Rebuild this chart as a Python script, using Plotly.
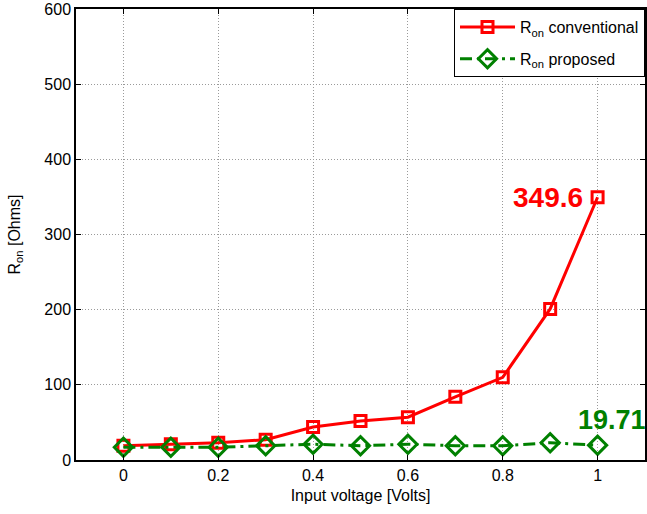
import plotly.graph_objects as go

# Input voltage sweep (V)
voltage = [0, 0.1, 0.2, 0.3, 0.4, 0.5, 0.6, 0.7, 0.8, 0.9, 1.0]

# On-resistance of the two switch designs (Ohms)
ron_conventional = [19, 21, 23, 27, 44, 52, 57, 84, 110, 201, 349.6]
ron_proposed = [17, 17, 17, 19, 21, 19, 21, 19, 19, 23, 19.71]

x_ticks = [0, 0.2, 0.4, 0.6, 0.8, 1]
y_ticks = [0, 100, 200, 300, 400, 500, 600]

FONT = "Liberation Sans, Arial, sans-serif"

fig = go.Figure()

fig.add_trace(go.Scatter(
    x=voltage, y=ron_conventional,
    mode="lines+markers",
    name="R<sub>on</sub> conventional",
    legendgroup="conv",
    line=dict(color="#ff0000", width=3),
    marker=dict(symbol="square-open", size=11, color="#ff0000",
                line=dict(width=3, color="#ff0000")),
))

fig.add_trace(go.Scatter(
    x=voltage, y=ron_proposed,
    mode="lines+markers",
    name="R<sub>on</sub> proposed",
    legendgroup="prop",
    line=dict(color="#008000", width=3, dash="12px,5px,3px,5px"),
    marker=dict(symbol="diamond-open", size=14, color="#008000",
                line=dict(width=3, color="#008000")),
))

# Value call-outs at the 1 V end of each curve
fig.add_annotation(
    x=voltage[-1], y=ron_conventional[-1], xref="x", yref="y",
    text="<b>%s</b>" % ron_conventional[-1],
    showarrow=False, xanchor="right", yanchor="middle", xshift=-13,
    font=dict(family=FONT, size=28, color="#ff0000"),
)
fig.add_annotation(
    x=voltage[-1], y=ron_proposed[-1], xref="x", yref="y",
    text="<b>%s</b>" % ron_proposed[-1],
    showarrow=False, xanchor="left", yanchor="middle", xshift=-22, yshift=25,
    font=dict(family=FONT, size=27, color="#008000"),
)

axis_common = dict(
    showline=True, linecolor="black", linewidth=1.5, mirror="ticks",
    ticks="inside", ticklen=5, tickcolor="black",
    showgrid=True, gridcolor="#9a9a9a", gridwidth=1, griddash="1px,2px",
    zeroline=False,
    tickfont=dict(family=FONT, size=16, color="black"),
)

fig.update_xaxes(
    range=[-0.1, 1.1], tickvals=x_ticks, ticktext=[str(v) for v in x_ticks],
    title=dict(text="Input voltage [Volts]", standoff=7,
               font=dict(family=FONT, size=16, color="black")),
    **axis_common,
)
fig.update_yaxes(
    range=[0, 600], tickvals=y_ticks, ticktext=[str(v) for v in y_ticks],
    title=dict(text="R<sub>on</sub> [Ohms]", standoff=20,
               font=dict(family=FONT, size=16, color="black")),
    **axis_common,
)

fig.update_layout(
    width=647, height=514,
    margin=dict(l=76, r=0, t=9, b=54),
    paper_bgcolor="white", plot_bgcolor="white",
    font=dict(family=FONT, size=16, color="black"),
    legend=dict(
        x=1, y=1, xanchor="right", yanchor="top",
        bgcolor="white", bordercolor="black", borderwidth=1,
        font=dict(family=FONT, size=16, color="black"),
        itemwidth=55, tracegroupgap=8,
    ),
    showlegend=True,
)

fig.write_html("out.html")
